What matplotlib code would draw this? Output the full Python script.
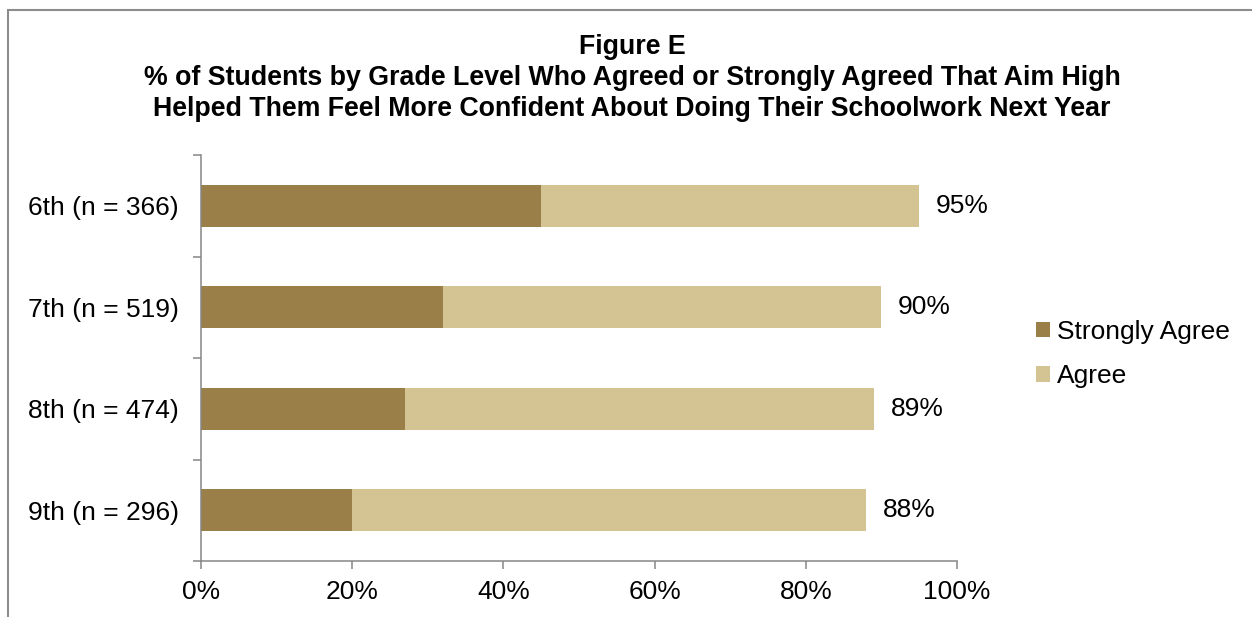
from matplotlib import pyplot as plt
from matplotlib.patches import Rectangle
import numpy as np

plt.rcParams['font.family'] = ['Liberation Sans', 'DejaVu Sans']

grades = ['6th (n = 366)', '7th (n = 519)', '8th (n = 474)', '9th (n = 296)']
strongly_agree = [45, 32, 27, 20]
agree = [50, 58, 62, 68]
totals = [95, 90, 89, 88]

sa_color = '#9A8048'
a_color = '#D4C494'
axis_color = '#868686'

fig = plt.figure(figsize=(12.52, 6.17), dpi=100)
ax = fig.add_axes([201/1252, 1-561/617, (957-201)/1252, (561-155)/617])

# outer chart frame (runs off the right and bottom edges)
fig.patches.append(Rectangle((8/1252, -0.1), 1.2, 1-10/617+0.1, transform=fig.transFigure,
                             fill=False, edgecolor='#8C8C8C', linewidth=1.5))

y = np.arange(len(grades))
ax.barh(y, strongly_agree, height=0.41, color=sa_color, label='Strongly Agree')
ax.barh(y, agree, left=strongly_agree, height=0.41, color=a_color, label='Agree')

for yi, t in zip(y, totals):
    ax.annotate(str(t)+'%', (t, yi), xytext=(12, 0), textcoords='offset points',
                va='center', ha='left', fontsize=19)

ax.set_xlim(0, 100)
ax.set_ylim(3.5, -0.5)
ax.set_xticks(range(0, 101, 20))
ax.set_xticklabels([str(v)+'%' for v in range(0, 101, 20)])
ax.set_yticks(y)
ax.set_yticklabels(grades)
ax.set_yticks(np.arange(-0.5, 4, 1), minor=True)

for s in ['top', 'right']:
    ax.spines[s].set_visible(False)
for s in ['left', 'bottom']:
    ax.spines[s].set_color(axis_color)
    ax.spines[s].set_linewidth(1.1)

ax.tick_params(axis='y', which='major', length=0, pad=16, labelsize=19)
ax.tick_params(axis='y', which='minor', length=6, width=1.1, color=axis_color)
ax.tick_params(axis='x', length=6, width=1.1, color=axis_color, pad=8, labelsize=19)

fig.text(632/1252, 1-34/617,
         'Figure E\n% of Students by Grade Level Who Agreed or Strongly Agreed That Aim High\n'
         'Helped Them Feel More Confident About Doing Their Schoolwork Next Year',
         ha='center', va='top', fontsize=19.3, fontweight='bold', linespacing=1.24)

fig.legend(loc='center left', bbox_to_anchor=(1036/1252, 1-354/617), frameon=False,
           fontsize=19, handlelength=0.53, handleheight=0.53, handletextpad=0.25,
           labelspacing=0.78, borderpad=0, borderaxespad=0)

plt.savefig('out.png', dpi=100)
